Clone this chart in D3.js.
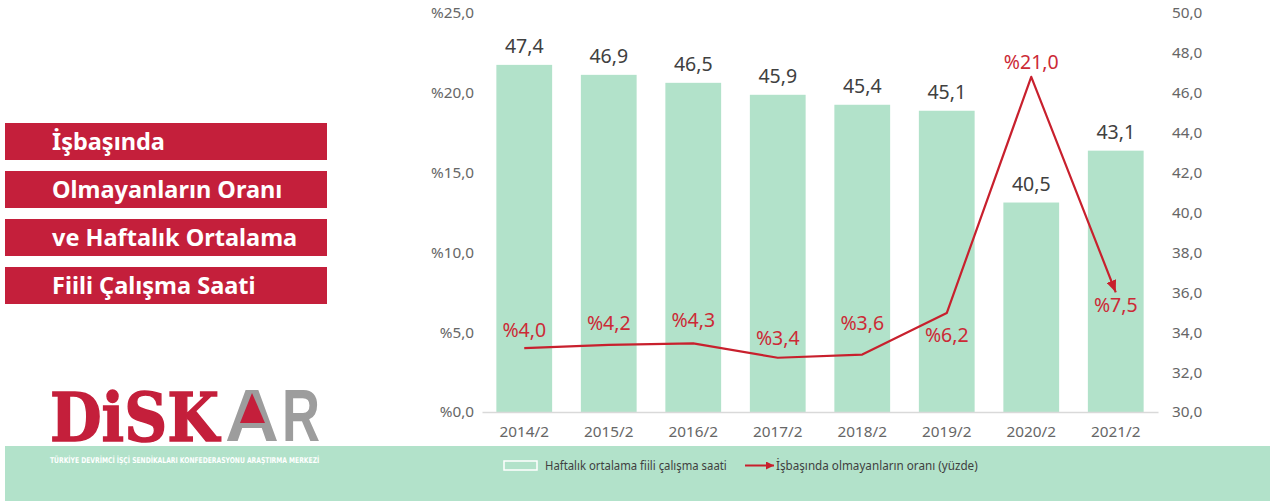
<!DOCTYPE html>
<html><head><meta charset="utf-8">
<script src="https://cdn.jsdelivr.net/npm/d3@7"></script>
<style>
html,body{margin:0;padding:0;background:#fff;}
svg{display:block;}
</style></head>
<body>
<script>
// ---- data ----
const categories = ["2014/2","2015/2","2016/2","2017/2","2018/2","2019/2","2020/2","2021/2"];
const weeklyHours = [47.4,46.9,46.5,45.9,45.4,45.1,40.5,43.1];
const absentRate = [4.0,4.2,4.3,3.4,3.6,6.2,21.0,7.5];
const leftTicks = [0,5,10,15,20,25];
const leftTickLabels = ["%0,0","%5,0","%10,0","%15,0","%20,0","%25,0"];
const rightTicks = [30,32,34,36,38,40,42,44,46,48,50];
const rightTickLabels = ["30,0","32,0","34,0","36,0","38,0","40,0","42,0","44,0","46,0","48,0","50,0"];
const titleLines = ["İşbaşında","Olmayanların Oranı","ve Haftalık Ortalama","Fiili Çalışma Saati"];
const legendLabels = ["Haftalık ortalama fiili çalışma saati","İşbaşında olmayanların oranı (yüzde)"];
const orgName = "TÜRKİYE DEVRİMCİ İŞÇİ SENDİKALARI KONFEDERASYONU ARAŞTIRMA MERKEZİ";

// ---- label placement (px offset of rate labels from their point) ----
const rateLabelDy = [-18,-22,-23,-20,-32,22,-15,13];

const W = 1270, H = 501;
const RED = "#c41f3b", LINE = "#c8202d", GREEN = "#b2e2ca", TXT = "#404040", AX = "#666666";
const FONT = "'Noto Sans', sans-serif";
const comma = v => d3.format(".1f")(v).replace(".", ",");

const svg = d3.select("body").append("svg").attr("width", W).attr("height", H)
  .style("font-family", FONT);

const x = d3.scaleBand(categories, [482, 1158]).paddingInner(0.34).paddingOuter(0.17);
const yL = d3.scaleLinear([0, 25], [412, 13]);
const yR = d3.scaleLinear([30, 50], [412, 13]);
const cx = c => x(c) + x.bandwidth() / 2;

// horizontally scale a text element to a target width (keeps bbox honest)
function fitX(sel, x0, y0, w) {
  const len = sel.node().getComputedTextLength();
  sel.attr("x", 0).attr("y", 0).attr("transform", `translate(${x0},${y0}) scale(${w / len},1)`);
  return sel;
}

// bottom green band
svg.append("rect").attr("x", 5).attr("y", 446).attr("width", W - 5).attr("height", H - 446).attr("fill", GREEN);

// bars
svg.append("g").selectAll("rect").data(categories).join("rect")
  .attr("x", d => x(d)).attr("width", x.bandwidth())
  .attr("y", (d, i) => yR(weeklyHours[i]))
  .attr("height", (d, i) => yR(30) - yR(weeklyHours[i]))
  .attr("fill", GREEN);

svg.append("g").selectAll("text").data(categories).join("text")
  .attr("x", d => cx(d)).attr("y", (d, i) => yR(weeklyHours[i]) - 12)
  .attr("text-anchor", "middle").attr("font-size", 19.5).attr("fill", TXT)
  .text((d, i) => comma(weeklyHours[i]));

// axes
const gL = svg.append("g").attr("transform", "translate(482,0)")
  .call(d3.axisLeft(yL).tickValues(leftTicks).tickFormat((d, i) => leftTickLabels[i]).tickSize(0).tickPadding(8));
const gR = svg.append("g").attr("transform", "translate(1158,0)")
  .call(d3.axisRight(yR).tickValues(rightTicks).tickFormat((d, i) => rightTickLabels[i]).tickSize(0).tickPadding(14));
const gX = svg.append("g").attr("transform", "translate(0,412)")
  .call(d3.axisBottom(x).tickSize(0).tickPadding(14).tickSizeOuter(0));
[gL, gR].forEach(g => g.select(".domain").remove());
gX.select(".domain").attr("stroke", "#d9d9d9").attr("stroke-width", 1.5);
[gL, gR, gX].forEach(g => g.selectAll("text").attr("font-family", FONT).attr("font-size", 15.3).attr("fill", AX));

// line with arrow
const defs = svg.append("defs");
defs.append("marker").attr("id", "arr").attr("markerUnits", "userSpaceOnUse")
  .attr("viewBox", "0 0 12 10").attr("refX", 12).attr("refY", 5)
  .attr("markerWidth", 12).attr("markerHeight", 10).attr("orient", "auto")
  .append("path").attr("d", "M0,0L12,5L0,10Z").attr("fill", LINE);
defs.append("marker").attr("id", "arr2").attr("markerUnits", "userSpaceOnUse")
  .attr("viewBox", "0 0 8 8").attr("refX", 8).attr("refY", 4)
  .attr("markerWidth", 8).attr("markerHeight", 8).attr("orient", "auto")
  .append("path").attr("d", "M0,0L8,4L0,8Z").attr("fill", LINE);

const line = d3.line().x((d, i) => cx(categories[i])).y(d => yL(d));
svg.append("path").datum(absentRate).attr("d", line)
  .attr("fill", "none").attr("stroke", LINE).attr("stroke-width", 2.2)
  .attr("stroke-linejoin", "round").attr("marker-end", "url(#arr)");

svg.append("g").selectAll("text").data(absentRate).join("text")
  .attr("x", (d, i) => cx(categories[i])).attr("y", (d, i) => yL(d) + rateLabelDy[i])
  .attr("dy", "0.36em").attr("text-anchor", "middle").attr("font-size", 19.5).attr("fill", "#cc2a36")
  .text(d => "%" + comma(d));

// title boxes
const tg = svg.append("g");
titleLines.forEach((t, i) => {
  const y0 = 123 + i * 48;
  tg.append("rect").attr("x", 5).attr("y", y0).attr("width", 322).attr("height", 37).attr("fill", RED);
  tg.append("text").attr("x", 52).attr("y", y0 + 27).attr("font-size", 23.5).attr("font-weight", "bold")
    .attr("fill", "#fff").text(t);
});

// logo
const lg = svg.append("g");
fitX(lg.append("text").attr("font-family", "'DejaVu Serif', serif").attr("font-weight", "bold")
  .attr("font-size", 68).attr("fill", RED).attr("stroke", RED).attr("stroke-width", 1.5).text("DiSK"), 50, 441, 169);
fitX(lg.append("text").attr("font-family", "'Liberation Sans', sans-serif").attr("font-weight", "bold")
  .attr("font-size", 74).attr("fill", "#9d9d9d").text("A"), 225, 441, 54);
lg.append("path").attr("d", "M252,393L240,423L265,423Z").attr("fill", RED);
fitX(lg.append("text").attr("font-family", "'Liberation Sans', sans-serif").attr("font-weight", "bold")
  .attr("font-size", 74).attr("fill", "#9d9d9d").text("R"), 282, 441, 38);
fitX(lg.append("text").attr("font-family", "'DejaVu Sans', sans-serif").attr("font-weight", "bold")
  .attr("font-size", 8).attr("fill", "#fff").text(orgName), 50, 463, 270);

// legend
const leg = svg.append("g").attr("font-size", 13.5).attr("fill", TXT);
leg.append("rect").attr("x", 504).attr("y", 461).attr("width", 33).attr("height", 9)
  .attr("fill", GREEN).attr("stroke", "#fff").attr("stroke-width", 1.5);
fitX(leg.append("text").text(legendLabels[0]), 545, 470, 182);
leg.append("line").attr("x1", 745).attr("x2", 774).attr("y1", 465.5).attr("y2", 465.5)
  .attr("stroke", LINE).attr("stroke-width", 2).attr("marker-end", "url(#arr2)");
fitX(leg.append("text").text(legendLabels[1]), 776, 470, 202);
</script>
</body></html>
